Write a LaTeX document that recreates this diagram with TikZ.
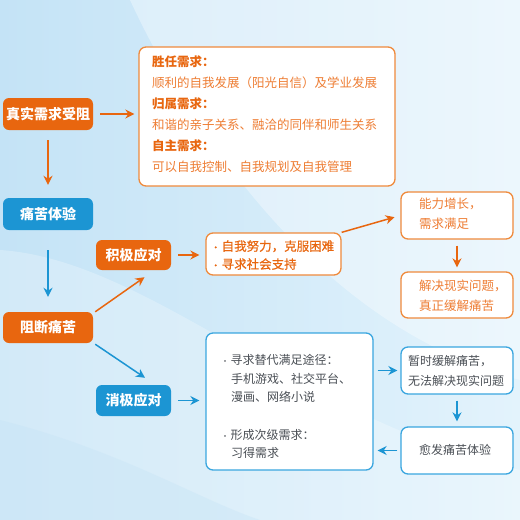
\documentclass[tikz,border=0pt]{standalone}
\usepackage{fontspec}
\setmainfont{Noto Sans CJK SC}
\usetikzlibrary{arrows.meta,calc}
\definecolor{orfill}{HTML}{E8660F}
\definecolor{orline}{HTML}{EF8A3C}
\definecolor{ortext}{HTML}{EE7D33}
\definecolor{orhead}{HTML}{E8660F}
\definecolor{blfill}{HTML}{1C95D3}
\definecolor{blline}{HTML}{3AA6DF}
\definecolor{gytext}{HTML}{4A4F55}
\definecolor{bgA}{HTML}{C4E3F6}
\definecolor{bgB}{HTML}{E3F3FC}
\tikzset{
  filledbox/.style={rounded corners=6pt, text=white, font=\fontsize{14}{16}\selectfont\bfseries, inner sep=0pt},
  orbox/.style={filledbox, fill=orfill},
  blbox/.style={filledbox, fill=blfill},
  oframe/.style={draw=orline, line width=1.3pt, fill=white, rounded corners=7pt, inner sep=0pt},
  bframe/.style={draw=blline, line width=1.3pt, fill=white, rounded corners=7pt, inner sep=0pt},
  txt/.style={anchor=west, inner sep=0pt, text height=0.88em, text depth=0.12em, font=\fontsize{12.5}{15}\selectfont},
  ohd/.style={txt, text=orhead, font=\fontsize{12.5}{15}\selectfont\bfseries},
  omd/.style={txt, text=orhead, font=\fontsize{12.5}{15}\selectfont\addfontfeature{FakeBold=0.6}},
  obd/.style={txt, text=ortext},
  gtx/.style={txt, text=gytext, font=\fontsize{12}{15}\selectfont},
  oarr/.style={draw=orfill, line width=1.5pt, -{Stealth[length=9pt,width=9pt]}},
  barr/.style={draw=blfill, line width=1.5pt, -{Stealth[length=9pt,width=9pt]}},
}
\begin{document}
\begin{tikzpicture}[x=1pt,y=-1pt]
\useasboundingbox (0,0) rectangle (520,520);
% background
\shade[left color=bgA, right color=bgB] (0,0) rectangle (520,520);
\fill[white, opacity=0.35] (130,0) .. controls (200,150) and (330,330) .. (520,380) -- (520,0) -- cycle;
\fill[white, opacity=0.25] (0,250) .. controls (150,260) and (300,420) .. (520,470) -- (520,520) -- (0,520) -- cycle;
\fill[bgA, opacity=0.35] (0,420) .. controls (120,450) and (200,500) .. (260,520) -- (0,520) -- cycle;

% left column
\node[orbox, minimum width=90pt, minimum height=32pt] (A) at (48,114) {真实需求受阻};
\node[blbox, minimum width=90pt, minimum height=32pt] (C) at (48,214) {痛苦体验};
\node[orbox, minimum width=90pt, minimum height=31pt] (D) at (48,327.5) {阻断痛苦};
\node[orbox, minimum width=75pt, minimum height=30pt] (E) at (133.5,255) {积极应对};
\node[blbox, minimum width=75pt, minimum height=31pt] (I) at (133.5,400.5) {消极应对};

% needs box
\node[oframe, minimum width=256pt, minimum height=139pt] (B) at (267,116.5) {};
\node[ohd] (b1) at (152,63) {胜任需求：};
\node[obd] (b2) at (152,84) {顺利的自我发展（阳光自信）及学业发展};
\node[ohd] (b3) at (152,105) {归属需求：};
\node[obd] (b4) at (152,126) {和谐的亲子关系、融洽的同伴和师生关系};
\node[ohd] (b5) at (152,147) {自主需求：};
\node[obd] (b6) at (152,168) {可以自我控制、自我规划及自我管理};

% positive coping
\node[oframe, minimum width=135pt, minimum height=42pt] (F) at (273.5,254) {};
\node[omd] (f1) at (211,247) {\fontsize{9}{9}\selectfont•\,\fontsize{12.5}{15}\selectfont 自我努力，克服困难};
\node[omd] (f2) at (211,265) {\fontsize{9}{9}\selectfont•\,\fontsize{12.5}{15}\selectfont 寻求社会支持};

\node[oframe, minimum width=112pt, minimum height=47pt] (G) at (457,215.5) {};
\node[obd] (g1) at (419,205) {能力增长，};
\node[obd] (g2) at (419,225) {需求满足};
\node[oframe, minimum width=112pt, minimum height=46pt] (H) at (457,295) {};
\node[obd] (h1) at (419,287) {解决现实问题，};
\node[obd] (h2) at (419,307) {真正缓解痛苦};

% negative coping
\node[bframe, minimum width=167pt, minimum height=137pt] (J) at (289.5,401.5) {};
\node[gtx] (j1) at (221,361) {\fontsize{8}{8}\selectfont•\,\fontsize{12}{15}\selectfont 寻求替代满足途径：};
\node[gtx] (j2) at (231,379.5) {手机游戏、社交平台、};
\node[gtx] (j3) at (231,398) {漫画、网络小说};
\node[gtx] (j4) at (221,435.5) {\fontsize{8}{8}\selectfont•\,\fontsize{12}{15}\selectfont 形成次级需求：};
\node[gtx] (j5) at (231,454) {习得需求};

\node[bframe, minimum width=112pt, minimum height=47pt] (K) at (457,370.5) {};
\node[gtx] (k1) at (408,362) {暂时缓解痛苦，};
\node[gtx] (k2) at (408,382) {无法解决现实问题};
\node[bframe, minimum width=112pt, minimum height=47pt] (L) at (457,450.5) {};
\node[gtx] (l1) at (419,450.5) {愈发痛苦体验};

% arrows
\draw[oarr, shorten <=7pt, shorten >=4pt] (A.east) -- (B.west |- A.east);
\draw[oarr, shorten <=10pt, shorten >=13pt] (A.south) -- (C.north);
\draw[barr, shorten <=20pt, shorten >=15pt] (C.south) -- (D.north);
\draw[oarr] ($(D.north east)+(2,0)$) -- ($(E.south)+(11,7)$);
\draw[oarr, shorten <=7pt, shorten >=6pt] (E.east) -- (F.west |- E.east);
\draw[oarr, shorten >=6pt] (F.north east) -- (G.west);
\draw[oarr, shorten <=6pt, shorten >=4pt] (G.south) -- (H.north);
\draw[barr] ($(D.south east)+(2,1)$) -- ($(I.north)+(11.5,-7)$);
\draw[barr, shorten <=7pt, shorten >=6pt] (I.east) -- (J.west |- I.east);
\draw[barr, shorten <=4pt, shorten >=3pt] (J.east |- K.west) -- (K.west);
\draw[barr, shorten <=6pt, shorten >=5pt] (K.south) -- (L.north);
\draw[barr, shorten <=3pt, shorten >=4pt] (L.west) -- (J.east |- L.west);
\end{tikzpicture}
\end{document}
